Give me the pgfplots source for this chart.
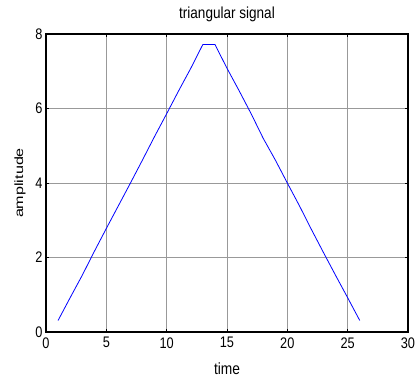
\documentclass[border=0pt]{standalone}
\usepackage{fontspec}
\setmainfont{Liberation Sans}
\usepackage{pgfplots}
\pgfplotsset{compat=1.18}
\begin{document}
\begin{tikzpicture}
\path[use as bounding box] (-46bp,-51bp) rectangle (371bp,332bp);
\begin{axis}[
  at={(0,0)}, anchor=south west,
  scale only axis, width=362bp, height=298bp,
  xmin=0, xmax=30, ymin=0, ymax=8,
  xtick={0,5,...,30}, ytick={0,2,...,8},
  grid=major,
  major grid style={gray!80, line width=0.6bp},
  tick align=inside, tick pos=both,
  major tick length=3bp,
  axis line style={black, line width=1.1bp},
  tick style={black, line width=0.6bp},
  /pgf/number format/assume math mode=true,
  ticklabel style={font=\fontsize{12.8}{14}\selectfont, yscale=1.2},
  xticklabel style={yshift=-1bp},
  title={triangular signal},
  title style={font=\fontsize{13.6}{15}\selectfont, yscale=1.18, at={(axis description cs:0.5,1.045)}, anchor=center},
  xlabel={time},
  xlabel style={font=\fontsize{13.8}{15}\selectfont, yscale=1.18, at={(axis description cs:0.5,-0.123)}, anchor=center},
  ylabel={amplitude},
  ylabel style={font=\fontsize{12}{14}\selectfont, xscale=1.35, at={(axis description cs:-0.072,0.5)}, anchor=center},
]
\addplot[blue, line width=0.8bp] coordinates {
(1,0.31) (2,0.92) (3,1.52) (4,2.16) (5,2.78) (6,3.39) (7,4.00) (8,4.62) (9,5.25) (10,5.86) (11,6.48) (12,7.08) (13,7.72) (14,7.72) (15,7.08) (16,6.48) (17,5.86) (18,5.20) (19,4.62) (20,4.00) (21,3.39) (22,2.75) (23,2.13) (24,1.52) (25,0.92) (26,0.31)
};
\end{axis}
\end{tikzpicture}
\end{document}
